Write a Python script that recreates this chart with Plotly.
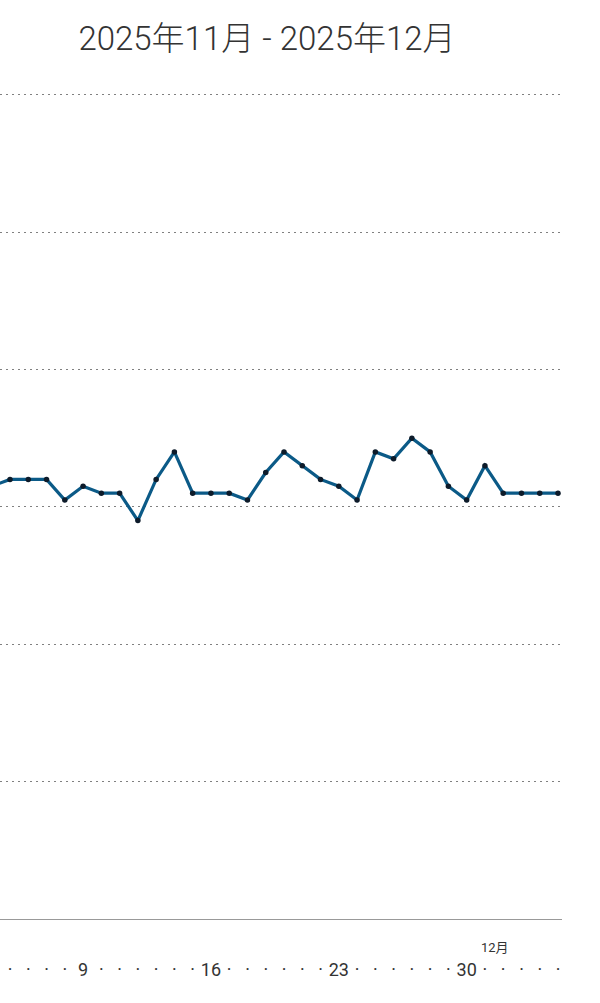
import pandas as pd
import plotly.graph_objects as go

# ---- data ----
dates = pd.date_range("2025-11-04", "2025-12-05", freq="D")
values = [3.15, 3.2, 3.2, 3.2, 3.05, 3.15, 3.1, 3.1, 2.9, 3.2, 3.4,
          3.1, 3.1, 3.1, 3.05, 3.25, 3.4, 3.3, 3.2, 3.15, 3.05, 3.4,
          3.35, 3.5, 3.4, 3.15, 3.05, 3.3, 3.1, 3.1, 3.1, 3.1]
labelled_days = [9, 16, 23, 30]
tick_labels = [str(d.day) if (d.month == 11 and d.day in labelled_days) else "·" for d in dates]
month_label = "12月"
month_label_date = "2025-12-01"
title_text = "2025年11月 - 2025年12月"
y_grid = [1, 2, 3, 4, 5, 6]

FONT = "Roboto, 'Noto Sans CJK JP', sans-serif"

fig = go.Figure()
fig.add_trace(go.Scatter(
    x=dates, y=values, mode="lines+markers",
    line=dict(color="#0b5a87", width=3.2),
    marker=dict(color="#0d1b2a", size=5.5),
    hoverinfo="skip", showlegend=False,
))

px_per_day = 548 / 30
start = pd.Timestamp("2025-11-05") - pd.Timedelta(days=10 / px_per_day)
end = start + pd.Timedelta(days=562 / px_per_day)

fig.update_layout(
    width=600, height=1003,
    margin=dict(l=0, r=38, t=92, b=84),
    paper_bgcolor="white", plot_bgcolor="white",
    title=dict(text=title_text, x=267 / 600, xanchor="center",
               y=1 - 38 / 1003, yanchor="middle", yref="container",
               font=dict(family=FONT, size=33, color="#333333", weight=300)),
    xaxis=dict(
        range=[start, end], tickmode="array", tickvals=dates, ticktext=tick_labels,
        showgrid=False, showline=True, linecolor="#999999", linewidth=1,
        ticks="", ticklabelstandoff=34,
        tickfont=dict(family=FONT, size=18, color="#333333"),
        zeroline=False,
    ),
    yaxis=dict(
        range=[0, 6.02], tickmode="array", tickvals=y_grid, showticklabels=False,
        showgrid=True, gridcolor="#808080", gridwidth=1, griddash="2px,4px",
        zeroline=False, ticks="",
    ),
    annotations=[dict(
        x=month_label_date, y=-0.035, xref="x", yref="paper",
        text=month_label, showarrow=False, xanchor="left", yanchor="middle",
        xshift=-6, font=dict(family=FONT, size=13, color="#333333"),
    )],
)

fig.write_html("out.html", config={"displayModeBar": False},
               post_script="document.body.style.margin='0';")
